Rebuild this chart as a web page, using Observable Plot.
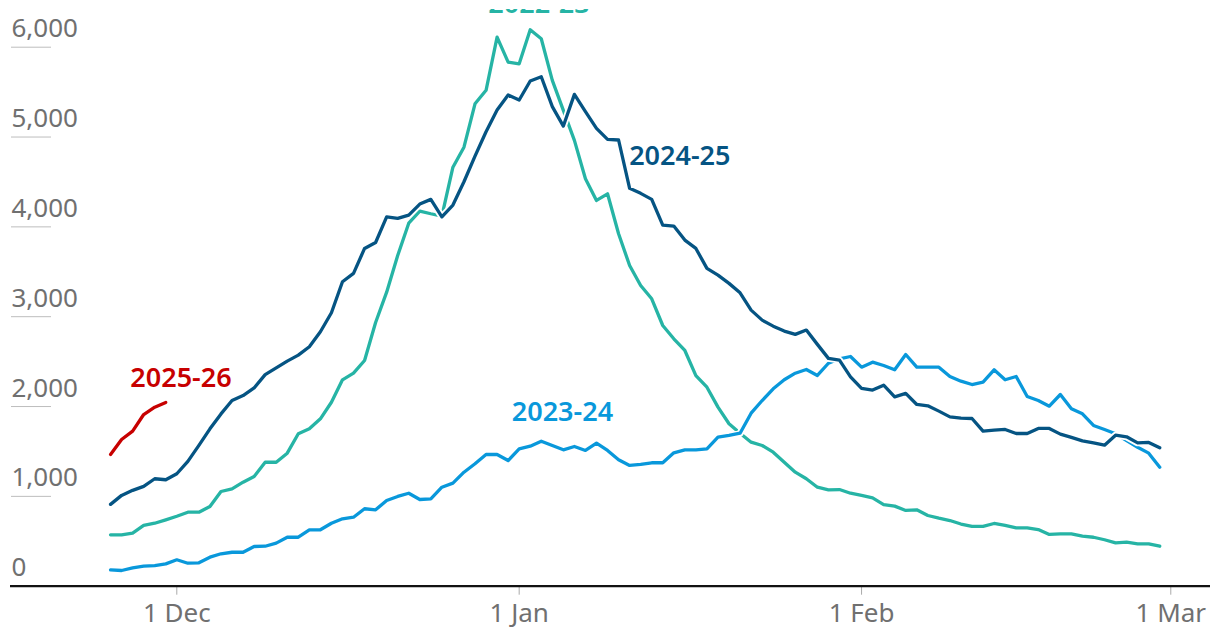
<!DOCTYPE html>
<html><head><meta charset="utf-8">
<script src="https://cdn.jsdelivr.net/npm/d3@7"></script>
<script src="https://cdn.jsdelivr.net/npm/@observablehq/plot@0.6"></script>
<style>
html,body{margin:0;padding:0;background:#fff;}
#chart{padding-top:9px;}
#chart svg{display:block;}
</style></head>
<body><div id="chart"></div>
<script>
// Daily values from 25 Nov to 28 Feb, each season plotted on a common axis
const startDay = Date.UTC(2024, 10, 25);
const seasons = ["2022-23", "2023-24", "2024-25", "2025-26"];
const seasonColors = ["#26b4a5", "#0998db", "#055483", "#c70000"];

const v2223 = [572,572,590,676,701,739,779,824,824,887,1054,1084,1158,1221,1380,1380,1481,1697,1752,1863,2048,2297,2371,2512,2935,3273,3681,4041,4175,4146,4120,4664,4887,5370,5520,6112,5833,5815,6194,6094,5631,5297,4963,4535,4294,4368,3923,3570,3348,3199,2902,2754,2624,2345,2215,1993,1808,1703,1603,1566,1492,1380,1269,1196,1102,1073,1076,1035,1010,984,909,891,843,850,787,757,731,692,665,665,698,676,650,650,631,576,583,583,557,545,517,483,490,472,472,445];
const v2324 = [182,175,205,223,230,249,294,256,260,323,361,378,378,442,445,479,545,545,628,628,701,750,768,862,850,954,999,1035,965,973,1102,1147,1269,1363,1466,1466,1399,1529,1559,1614,1566,1518,1555,1511,1592,1511,1407,1344,1355,1374,1374,1485,1518,1518,1529,1659,1678,1703,1926,2067,2197,2298,2371,2412,2346,2482,2531,2557,2438,2494,2457,2409,2579,2438,2438,2438,2334,2282,2245,2271,2409,2298,2334,2112,2067,2004,2134,1975,1919,1789,1744,1697,1622,1547,1481,1325];
const v2425 = [911,1011,1067,1111,1196,1185,1252,1389,1567,1752,1918,2067,2122,2207,2355,2430,2505,2572,2665,2832,3044,3389,3482,3760,3826,4112,4094,4131,4254,4306,4112,4243,4502,4788,5059,5301,5468,5412,5624,5671,5338,5122,5475,5282,5097,4974,4967,4429,4373,4306,4020,4009,3853,3760,3538,3463,3371,3266,3073,2962,2895,2840,2803,2851,2692,2536,2517,2331,2202,2183,2238,2108,2146,2023,2008,1949,1885,1870,1867,1726,1737,1745,1700,1700,1756,1756,1693,1656,1618,1596,1570,1681,1663,1596,1600,1540];
const v2526 = [1466,1633,1726,1911,1993,2045];

const yTicks = [0, 1000, 2000, 3000, 4000, 5000, 6000];
const xTicks = [Date.UTC(2024,11,1), Date.UTC(2025,0,1), Date.UTC(2025,1,1), Date.UTC(2025,2,1)];

const labelSeasons = ["2022-23", "2023-24", "2024-25", "2025-26"];
const labelDates = [Date.UTC(2025,0,2,19), Date.UTC(2025,0,4,22), Date.UTC(2025,0,15,13), Date.UTC(2024,11,1,9)];
const labelValues = [6479, 1934, 4790, 2319];

const seriesValues = [v2223, v2324, v2425, v2526];
const DAY = 864e5;
const table = seasons.map((s, k) => seriesValues[k].map((v, i) => ({season: s, date: new Date(startDay + i * DAY), value: v})));
const labels = labelSeasons.map((s, i) => ({season: s, date: new Date(labelDates[i]), value: labelValues[i]}));

const lineMarks = [];
seasons.forEach((s, k) => {
  lineMarks.push(Plot.line(table[k], {x: "date", y: "value", stroke: "#fff", strokeWidth: 7, strokeLinejoin: "round"}));
  lineMarks.push(Plot.line(table[k], {x: "date", y: "value", stroke: seasonColors[k], strokeWidth: 3.3, strokeLinejoin: "round"}));
});

const chart = Plot.plot({
  width: 1220, height: 635,
  marginLeft: 10, marginRight: 10, marginTop: 37.7, marginBottom: 58.3,
  style: {fontFamily: "'Noto Sans', sans-serif", background: "#fff", overflow: "hidden"},
  x: {type: "utc", domain: [new Date(Date.UTC(2024,10,15,22,36)), new Date(Date.UTC(2025,2,4,14,17))]},
  y: {domain: [0, 6000], axis: null},
  color: {domain: seasons, range: seasonColors},
  marks: [
    Plot.ruleY(yTicks.filter(d => d > 0), {stroke: "#bdbdbd", strokeWidth: 1, insetLeft: 1, insetRight: 1159}),
    Plot.text(yTicks, {y: d => d, frameAnchor: "left", textAnchor: "start", lineAnchor: "bottom", dx: 1, dy: -10,
      text: d => d3.format(",")(d), fontSize: 26, fill: "#707070"}),
    Plot.axisX({ticks: xTicks.map(t => new Date(t)), tickFormat: d3.utcFormat("%-d %b"), tickSize: 9, tickPadding: 8,
      stroke: "#aaa", fill: "#707070", fontSize: 26, label: null}),
    Plot.ruleY([0], {stroke: "#121212", strokeWidth: 2.2}),
    ...lineMarks,
    Plot.text(labels, {x: "date", y: "value", text: "season", fill: "season", fontSize: 27, fontWeight: 600,
      textAnchor: "middle", lineAnchor: "middle"})
  ]
});
document.getElementById("chart").appendChild(chart);
</script>
</body></html>
